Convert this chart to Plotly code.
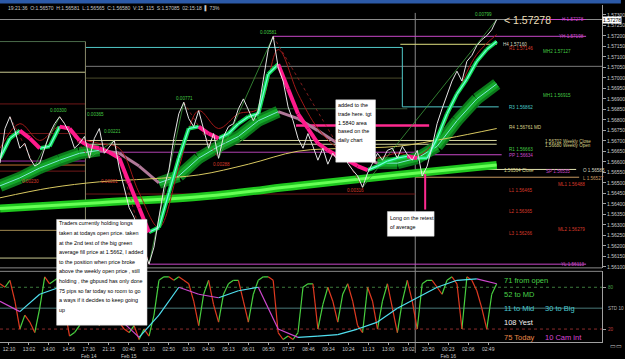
import plotly.graph_objects as go
from plotly.subplots import make_subplots

# ---------------- data ----------------
time_labels = ["12:10", "13:02", "14:00", "14:56", "17:30", "21:15", "00:40", "02:10", "02:50", "03:30",
               "04:30", "05:13", "06:01", "06:50", "07:57", "08:46", "09:34", "10:24", "11:13", "13:00",
               "19:02", "20:50", "00:23", "02:06", "02:49"]
date_labels = ["", "", "", "", "Feb 14", "", "Feb 15", "", "", "", "", "", "", "", "", "", "", "", "", "",
               "", "", "Feb 16", "", ""]

# close price, one value per bar
price = [1.56594, 1.56759, 1.56815, 1.56749, 1.56665, 1.56688, 1.56618, 1.56580, 1.56594, 1.56665,
         1.56735, 1.56782, 1.56815, 1.56782, 1.56735, 1.56665, 1.56688, 1.56721, 1.56618, 1.56712,
         1.56759, 1.56641, 1.56674, 1.56702, 1.56571, 1.56476, 1.56382, 1.56335, 1.56251, 1.56185,
         1.56113, 1.56194, 1.56345, 1.56476, 1.56561, 1.56712, 1.56829, 1.56884, 1.56806, 1.56768,
         1.56844, 1.56759, 1.56665, 1.56735, 1.56617, 1.56721, 1.56768, 1.56782, 1.56853, 1.56900,
         1.56844, 1.56796, 1.56844, 1.56994, 1.57135, 1.57198, 1.57051, 1.56985, 1.56862, 1.56796,
         1.56712, 1.56665, 1.56735, 1.56674, 1.56608, 1.56665, 1.56589, 1.56641, 1.56608, 1.56665,
         1.56594, 1.56561, 1.56533, 1.56479, 1.56547, 1.56594, 1.56641, 1.56608, 1.56655, 1.56665,
         1.56618, 1.56674, 1.56636, 1.56608, 1.56655, 1.56533, 1.56580, 1.56674, 1.56782, 1.56853,
         1.56924, 1.56985, 1.57032, 1.56985, 1.57079, 1.57107, 1.57154, 1.57182, 1.57201, 1.57229,
         1.57278]

# fast ribbon average, every 2 bars
fast_ma = [1.56618, 1.56712, 1.56749, 1.56712, 1.56665, 1.56674, 1.56768, 1.56759, 1.56702, 1.56674,
           1.56665, 1.56646, 1.56618, 1.56500, 1.56382, 1.56265, 1.56288, 1.56453, 1.56618, 1.56759,
           1.56768, 1.56735, 1.56712, 1.56735, 1.56782, 1.56815, 1.56829, 1.57018, 1.57065, 1.56947,
           1.56829, 1.56759, 1.56688, 1.56655, 1.56627, 1.56608, 1.56580, 1.56561, 1.56580, 1.56604,
           1.56618, 1.56627, 1.56618, 1.56618, 1.56712, 1.56829, 1.56924, 1.56994, 1.57079, 1.57135,
           1.57173]
# slow ribbon average, every 4 bars
slow_ma = [1.56486, 1.56524, 1.56571, 1.56608, 1.56641, 1.56655, 1.56641, 1.56580, 1.56500, 1.56533,
           1.56618, 1.56674, 1.56721, 1.56796, 1.56839, 1.56806, 1.56749, 1.56688, 1.56627, 1.56594,
           1.56594, 1.56618, 1.56674, 1.56796, 1.56900, 1.56971]
# lagging red average, every 4 bars
red_ma = [1.56665, 1.56782, 1.56702, 1.56768, 1.56712, 1.56688, 1.56665, 1.56453, 1.56288, 1.56571,
          1.56844, 1.56759, 1.56829, 1.56853, 1.57135, 1.56924, 1.56759, 1.56665, 1.56618, 1.56618,
          1.56641, 1.56627, 1.56712, 1.56924, 1.57112, 1.57206]
# yellow long average, every 10 bars
yellow_ma = [1.56429, 1.56476, 1.56505, 1.56519, 1.56538, 1.56589, 1.56651, 1.56665, 1.56674, 1.56712,
             1.56759]
# the big green average, every 20 bars
big_avg = [1.56378, 1.56406, 1.56434, 1.56486, 1.56538, 1.56585]

# zigzag swing points
zz_bar = [2, 7, 12, 18, 23, 30, 37, 44, 55, 73, 100]
zz_price = [1.56815, 1.56580, 1.56815, 1.56618, 1.56702, 1.56113, 1.56884, 1.56617, 1.57198, 1.56479,
            1.57278]
zz_text = ["0.00300", "0.00230", "0.00365", "0.00201", "0.00221", "0.00771", "0.00288", "0.00581",
           "0.00316", "0.00799"]

# oscillator (stochastic) per bar, and its slow line every 4 bars
stoch = [85, 80, 90, 60, 20, 40, 30, 15, 50, 95,
         85, 90, 95, 50, 10, 15, 25, 60, 85, 60,
         25, 70, 90, 65, 30, 20, 15, 25, 5, 20,
         10, 40, 90, 95, 95, 90, 95, 90, 85, 60,
         25, 70, 90, 55, 30, 70, 85, 90, 90, 60,
         30, 70, 90, 95, 95, 90, 15, 5, 10, 5,
         15, 80, 85, 85, 20, 55, 80, 60, 30, 70,
         85, 60, 25, 15, 80, 60, 20, 60, 85, 50,
         15, 60, 90, 60, 20, 85, 90, 90, 80, 70,
         90, 95, 85, 20, 95, 90, 75, 50, 20, 70,
         85]
stoch_slow = [60, 45, 70, 80, 55, 60, 35, 8, 40, 80, 70, 65, 75, 80, 20, 8, 10, 12, 20, 30,
              50, 65, 80, 90, 92, 85]

# horizontal levels
left_levels = [1.57173, 1.57027, 1.56876, 1.56735, 1.56604, 1.56585, 1.56556, 1.56274, 1.56142]
mid_levels = [1.57145, 1.57055, 1.56999, 1.56853, 1.56702, 1.56684, 1.56646, 1.56447]
bid = 1.57278
yest_high = 1.57198
yest_low = 1.56113
h4_level = 1.57160
r3_level = 1.56862
pp_level = 1.56634
close_level = 1.56564
l_level = 1.56527
pink_level = 1.56773

right_labels = ["H 1.57278", "YH 1.57198", "H4 1.57160", "R1 1.57146", "MH2 1.57127", "MH1 1.56915",
                "R3 1.56862", "R4 1.56761 MD", "1.56702 Weekly Close", "1.56680 Weekly Open",
                "R1 1.56663", "PP 1.56634", "1.56564 Close", "SP 1.56535", "O 1.56585", "L 1.56527",
                "ML1 1.56488", "L1 1.56465", "L2 1.56365", "ML2 1.56279", "L3 1.56266", "YL 1.56113"]

price_ticks = [1.561 + 0.0005 * k for k in range(25)]

osc_texts = ["71 from open", "52 to MD", "11 to Mid", "30 to Big", "108 Yest", "75 Today", "10 Cam int"]

note1 = ["Traders currently holding longs", "taken at todays open price. taken",
         "at the 2nd test of the big green", "average fill price at 1.5662, I added",
         "to the position when price broke", "above the weekly open price , still",
         "holding , the gbpusd has only done", "75 pips so far today so room to go",
         "a ways if it decides to keep going", "up"]
note2 = ["added to the", "trade here. tgt", "1.5840 area", "based on the", "daily chart"]
note3 = ["Long on the retest", "of average"]

# ---------------- layout helpers ----------------
W = 606.0            # plot width in px
TOP, BOT = 5.0, 346.0


def PX(px):
    return px / W


def PY(py):
    return (BOT - py) / (BOT - TOP)


def BX(px):          # px -> bar index (5 px per bar)
    return px / 5.0


GREEN = "#44c844"
RED = "#d83a2a"
MAG = "#c848c8"
CYAN = "#48c8c8"
YEL = "#d8d088"
TAN = "#c89a60"
LBL = "Liberation Sans"

fig = make_subplots(rows=2, cols=1, shared_xaxes=True, vertical_spacing=0.01)


def dir_split(xs, ys):
    ux, uy, dx, dy = [], [], [], []
    for i in range(len(xs) - 1):
        if ys[i + 1] >= ys[i]:
            ux += [xs[i], xs[i + 1], None]
            uy += [ys[i], ys[i + 1], None]
        else:
            dx += [xs[i], xs[i + 1], None]
            dy += [ys[i], ys[i + 1], None]
    return ux, uy, dx, dy


def add_line(x, y, color, width, row=1, dash="solid", shape="linear"):
    fig.add_trace(go.Scatter(x=x, y=y, mode="lines", hoverinfo="skip", showlegend=False,
                             line=dict(color=color, width=width, dash=dash, shape=shape)),
                  row=row, col=1)


bars = list(range(len(price)))
x_fast = [2 * i for i in range(len(fast_ma))]
x_slow = [4 * i for i in range(len(slow_ma))]
x_red = [4 * i for i in range(len(red_ma))]
x_yel = [10 * i for i in range(len(yellow_ma))]
x_big = [20 * i for i in range(len(big_avg))]

# big green average
add_line(x_big, big_avg, "#1fc81f", 8, shape="spline")
add_line(x_big, big_avg, "#66ff55", 3, shape="spline")

# slow ribbon
ux, uy, dx, dy = dir_split(x_slow, slow_ma)
add_line(ux, uy, "#0c7a1c", 12)
add_line(ux, uy, "#14a82a", 7)
add_line(ux, uy, "#7fe8d8", 1)
add_line(dx, dy, "#b07898", 3)

# yellow & red averages
add_line(x_yel, yellow_ma, "#d8c860", 1, shape="spline")
add_line(x_red, red_ma, "#a01818", 1, shape="spline")

# zigzag
zux, zuy, zdx, zdy = dir_split(zz_bar, zz_price)
add_line(zux, zuy, "#3c9a3c", 0.8)
add_line(zdx, zdy, "#a02424", 0.8, dash="dot")

# fast ribbon
ux, uy, dx, dy = dir_split(x_fast, fast_ma)
add_line(ux, uy, "#10d850", 4)
add_line(ux, uy, "#70ffe0", 1.2)
add_line(dx, dy, "#ff1a8c", 4)

# price
add_line(bars, price, "#e4e4e4", 1)

# oscillator
sux, suy, sdx, sdy = dir_split(bars, stoch)
add_line(sux, suy, "#48d040", 1.2, row=2)
add_line(sdx, sdy, "#e03a20", 1.2, row=2)
oux, ouy, odx, ody = dir_split(x_slow, stoch_slow)
add_line(oux, ouy, "#50e0f0", 1.2, row=2)
add_line(odx, ody, "#d048d0", 1.2, row=2)

shapes = []


def hline(y, x0px, x1px, color, width=1, dash="solid", yref="y", xref="x"):
    shapes.append(dict(type="line", xref=xref, yref=yref, x0=BX(x0px), x1=BX(x1px), y0=y, y1=y,
                       line=dict(color=color, width=width, dash=dash), layer="below"))


left_cols = ["#4a6a4a", "#c8c890", "#701818", "#701818", "#a030a0", "#c07030", "#701818", "#a08850",
             "#c8c890"]
for lv, c in zip(left_levels, left_cols):
    hline(lv, 0, 86, c)
mid_ext = [405, 606, 405, 410, 500, 500, 418, 418]
mid_cols = ["#50c8c8", "#7a7a7a", "#4a4a2a", "#3a5a3a", "#d8d8a0", "#d8d8a0", "#b040b0", "#701818"]
for lv, e, c in zip(mid_levels, mid_ext, mid_cols):
    hline(lv, 86, e, c)

hline(bid, 0, 606, "#8c8c8c")
hline(bid, 545, 590, MAG)
hline(yest_high, 275, 590, MAG)
hline(h4_level, 403, 500, "#e0e080")
hline(r3_level, 405, 502, "#50c8c8")
hline(pp_level, 418, 505, MAG)
hline(close_level, 418, 580, "#e0e0b0")
hline(l_level, 418, 583, TAN)
hline(yest_low, 150, 590, MAG)
hline(pink_level, 298, 432, "#ff2a90", width=2.5)

# vertical guide lines
shapes.append(dict(type="line", xref="x", yref="y", x0=BX(405), x1=BX(405), y0=mid_levels[0], y1=r3_level,
                   line=dict(color="#50c8c8", width=1), layer="below"))
shapes.append(dict(type="line", xref="x", yref="y", x0=BX(86), x1=BX(86), y0=left_levels[0],
                   y1=1.56095, line=dict(color="#8a8a6a", width=1), layer="below"))
shapes.append(dict(type="line", xref="x", yref="paper", x0=BX(418), x1=BX(418), y0=PY(357), y1=PY(13),
                   line=dict(color="#8a8a8a", width=1), layer="below"))
shapes.append(dict(type="line", xref="x", yref="paper", x0=BX(428), x1=BX(428), y0=PY(176), y1=PY(212),
                   line=dict(color="#ff2a90", width=2), layer="above"))

# panel separators
for py in (271, 274.5):
    shapes.append(dict(type="line", xref="paper", yref="paper", x0=0, x1=1, y0=PY(py), y1=PY(py),
                       line=dict(color="#8a8a8a", width=1)))

# oscillator levels
shapes.append(dict(type="line", xref="x2", yref="y2", x0=0, x1=BX(606), y0=80, y1=80,
                   line=dict(color="#3c7a3c", width=1, dash="dot"), layer="below"))
shapes.append(dict(type="line", xref="x2", yref="y2", x0=0, x1=BX(606), y0=50, y1=50,
                   line=dict(color="#4a7a7a", width=1), layer="below"))
shapes.append(dict(type="line", xref="x2", yref="y2", x0=0, x1=BX(606), y0=20, y1=20,
                   line=dict(color="#8a2a2a", width=1, dash="dot"), layer="below"))

# title bar
shapes.append(dict(type="rect", xref="paper", yref="paper", x0=0, x1=625 / W, y0=PY(3.5), y1=PY(0),
                   fillcolor="#2c5aa8", line=dict(width=0)))

# note boxes
for (x0, y0, x1, y1) in [(57, 222, 148, 329), (338, 101, 378, 164), (390, 214, 437, 239)]:
    shapes.append(dict(type="rect", xref="paper", yref="paper", x0=PX(x0), x1=PX(x1), y0=PY(y1), y1=PY(y0),
                       fillcolor="white", line=dict(color="#d0d0d0", width=0.5), layer="above"))

annotations = []


def txt(text, px, py, color, size=5, anchor="left", family=LBL):
    annotations.append(dict(text=text, x=PX(px), y=PY(py), xref="paper", yref="paper", showarrow=False,
                            xanchor=anchor, yanchor="middle", font=dict(color=color, size=size, family=family)))


# info line
txt("19:21:36  O:1.56570  H:1.56581  L:1.56565  C:1.56580  V:15  115  S:1.57085  02:15:18  \u258c 73%",
    6, 9, "#c8c8c8", 5)

# right-side level labels
lab_pos = [(590, 20, MAG, "right"), (590, 37, MAG, "right"), (504, 45, "#d8d8c0", "left"),
           (510, 49, RED, "left"), (545, 52, GREEN, "left"), (545, 97, GREEN, "left"),
           (510, 109, CYAN, "left"), (510, 129, YEL, "left"), (547, 143, YEL, "left"),
           (547, 147, YEL, "left"), (510, 151, GREEN, "left"), (510, 157, MAG, "left"),
           (505, 172, YEL, "left"), (548, 173, MAG, "left"), (585, 172, "#d8d8c0", "left"),
           (585, 181, TAN, "left"), (560, 187, RED, "left"), (510, 193, RED, "left"),
           (510, 214, RED, "left"), (560, 232, RED, "left"), (510, 236, RED, "left"),
           (590, 268, MAG, "right")]
for t, (px, py, c, anc) in zip(right_labels, lab_pos):
    txt(t, px, py, c, 4.6, anc)

# zigzag labels
zz_pos = [(48, 112, GREEN), (20, 184, RED), (86, 116, GREEN), (100, 184, RED), (103, 133, GREEN),
          (175, 100, GREEN), (212, 166, RED), (260, 33, GREEN), (347, 193, RED), (476, 15, GREEN)]
for t, (px, py, c) in zip(zz_text, zz_pos):
    txt(t, px, py, c, 4.6)

# current price
txt("< " + f"{bid:.5f}", 505, 20, "#ecdfb8", 10.5)
annotations.append(dict(text=f"{bid:.5f}", x=1.0, y=PY(20), xref="paper", yref="paper", showarrow=False,
                        xanchor="left", yanchor="middle", bgcolor="white", borderpad=0,
                        font=dict(color="black", size=5, family=LBL)))

# oscillator texts
osc_pos = [(505, 284, "#48d048"), (505, 298, "#48d048"), (505, 312, "#48c8d0"), (547, 312, "#48c8d0"),
           (505, 326, "#f0f0f0"), (505, 341, "#e88848"), (547, 341, "#d848d8")]
for t, (px, py, c) in zip(osc_texts, osc_pos):
    txt(t, px, py, c, 7.5, family="Liberation Sans")
txt("80", 610, 291, "#48a048", 4.6)
txt("STD 10", 610, 312, "#b0b0b0", 4.6)
txt("20", 610, 333, "#c04040", 4.6)

# note texts
NOTE_FONT = "Liberation Sans"
for k, line in enumerate(note1):
    txt(line, 57.5, 226 + 9.7 * k, "black", 5.4, family=NOTE_FONT)
for k, line in enumerate(note2):
    txt(line, 338.5, 106 + 9.0 * k, "black", 5.4, family=NOTE_FONT)
for k, line in enumerate(note3):
    txt(line, 390.5, 221 + 9.0 * k, "black", 5.4, family=NOTE_FONT)

# window buttons bottom right
txt("\u25ad\u25ad", 612, 350, "#c8c8c8", 6)

tickvals = [1.8 + 4.02 * k for k in range(len(time_labels))]
ticktext = [t + ("<br>" + d if d else "") for t, d in zip(time_labels, date_labels)]

fig.update_layout(
    width=625, height=359, margin=dict(l=0, r=19, t=5, b=13),
    paper_bgcolor="black", plot_bgcolor="black", showlegend=False,
    shapes=shapes, annotations=annotations,
    font=dict(family=LBL, color="#c8c8c8", size=5),
)
fig.update_xaxes(range=[0, BX(606)], showgrid=False, zeroline=False, showline=False)
fig.update_xaxes(showticklabels=False, ticks="", row=1, col=1)
fig.update_xaxes(tickvals=tickvals, ticktext=ticktext, ticks="outside", ticklen=2, tickcolor="#a0a0a0",
                 tickfont=dict(size=5, color="#c8c8c8"), showline=True, linecolor="#a0a0a0",
                 row=2, col=1)
fig.update_yaxes(domain=[PY(271), 1], range=[1.560953, 1.573471], side="right", tickvals=price_ticks,
                 ticktext=[f"{v:.5f}" for v in price_ticks], ticks="outside", ticklen=3, tickcolor="#a0a0a0",
                 tickfont=dict(size=5, color="#c8c8c8"), showline=True, linecolor="#a0a0a0",
                 showgrid=False, zeroline=False, row=1, col=1)
fig.update_yaxes(domain=[0, PY(274.5)], range=[1.43, 102.86], side="right", tickvals=[20, 80], ticks="outside",
                 ticklen=3, tickcolor="#a0a0a0", showticklabels=False, showline=True, linecolor="#a0a0a0",
                 showgrid=False, zeroline=False, row=2, col=1)

fig.write_html("out.html")
